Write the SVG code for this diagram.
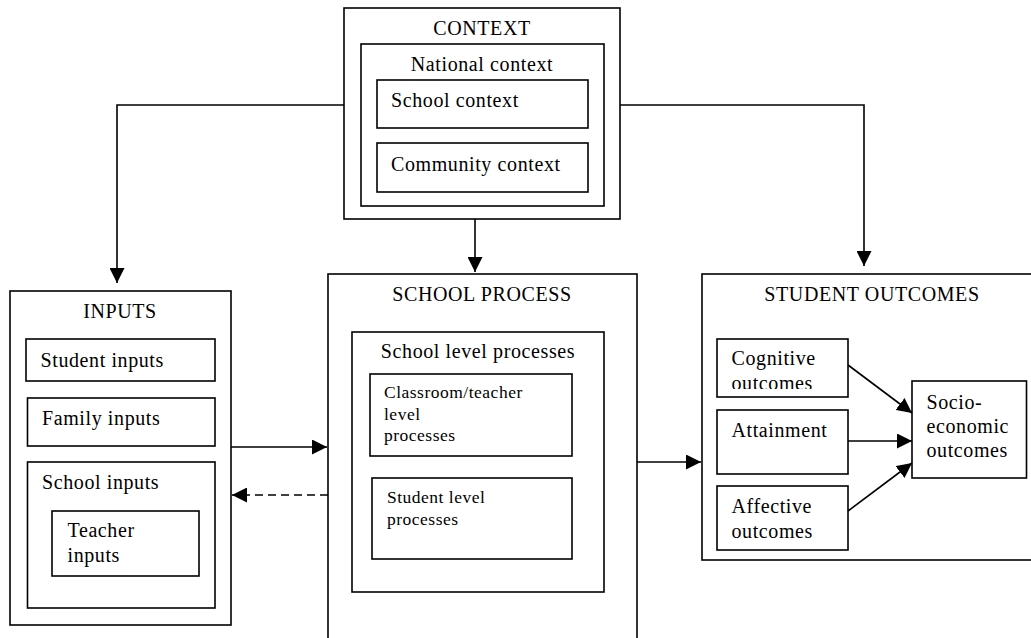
<svg xmlns="http://www.w3.org/2000/svg" width="1031" height="638" viewBox="0 0 1031 638">
<defs>
<marker id="ah" markerUnits="userSpaceOnUse" markerWidth="15" markerHeight="15" refX="14" refY="7" orient="auto" viewBox="0 0 14 14"><path d="M0,0 L14,7 L0,14 z" fill="#000"/></marker>
<clipPath id="cogclip"><rect x="717" y="339" width="131" height="50"/></clipPath>
</defs>
<style>
rect{fill:#fff;stroke:#000;stroke-width:1.6}
text{font-family:"Liberation Serif","Times New Roman",serif;font-size:20px;letter-spacing:0.6px;fill:#000}
.sm{font-size:17.5px;letter-spacing:0.5px}
.c{text-anchor:middle}
.conn path{fill:none;stroke:#000;stroke-width:1.6}
.dash{stroke-dasharray:8 5}
</style>
<rect x="0" y="0" width="1031" height="638" style="stroke:none;fill:#fff"/>
<g id="context">
<rect x="344" y="8" width="276" height="211"/>
<text class="c" x="482" y="35">CONTEXT</text>
<g id="national-context">
<rect x="361" y="44" width="243" height="162"/>
<text class="c" x="482" y="71">National context</text>
</g>
<g id="school-context">
<rect x="377" y="80" width="211" height="48"/>
<text x="391" y="107">School context</text>
</g>
<g id="community-context">
<rect x="377" y="143" width="211" height="49"/>
<text x="391" y="171">Community context</text>
</g>
</g>
<g id="inputs">
<rect x="10" y="291" width="221" height="334"/>
<text class="c" x="120" y="318">INPUTS</text>
<g id="student-inputs">
<rect x="26" y="339" width="189" height="42"/>
<text x="40.5" y="367">Student inputs</text>
</g>
<g id="family-inputs">
<rect x="27.5" y="398" width="187.5" height="48"/>
<text x="42" y="425">Family inputs</text>
</g>
<g id="school-inputs">
<rect x="27.5" y="462" width="187.5" height="146"/>
<text x="42" y="489">School inputs</text>
<g id="teacher-inputs">
<rect x="52" y="511" width="147" height="65"/>
<text x="67.5" y="537">Teacher</text>
<text x="67.5" y="562">inputs</text>
</g>
</g>
</g>
<g id="school-process">
<rect x="328" y="274" width="309" height="380"/>
<text class="c" x="482" y="301">SCHOOL PROCESS</text>
<g id="school-level">
<rect x="352" y="332" width="252" height="260"/>
<text class="c" x="478" y="358">School level processes</text>
<g id="classroom-level">
<rect x="370" y="374" width="202" height="82"/>
<text class="sm" x="384" y="398">Classroom/teacher</text>
<text class="sm" x="384" y="419.5">level</text>
<text class="sm" x="384" y="441">processes</text>
</g>
<g id="student-level">
<rect x="372" y="478" width="200" height="81"/>
<text class="sm" x="387" y="503">Student level</text>
<text class="sm" x="387" y="524.5">processes</text>
</g>
</g>
</g>
<g id="student-outcomes">
<rect x="702" y="274" width="340" height="286"/>
<text class="c" x="872" y="301">STUDENT OUTCOMES</text>
<g id="cognitive">
<rect x="717" y="339" width="131" height="58"/>
<text x="731.5" y="365">Cognitive</text>
<text x="731.5" y="390" clip-path="url(#cogclip)">outcomes</text>
</g>
<g id="attainment">
<rect x="717" y="410" width="131" height="64"/>
<text x="731.5" y="437">Attainment</text>
</g>
<g id="affective">
<rect x="717" y="486" width="131" height="64"/>
<text x="731.5" y="513">Affective</text>
<text x="731.5" y="537.5">outcomes</text>
</g>
<g id="socio-economic">
<rect x="912" y="381" width="114.5" height="97"/>
<text x="926.5" y="408.5">Socio-</text>
<text x="926.5" y="433">economic</text>
<text x="926.5" y="457">outcomes</text>
</g>
</g>
<g class="conn" id="connectors">
<path d="M344,105 H117 V283" marker-end="url(#ah)"/>
<path d="M620,105 H864 V266" marker-end="url(#ah)"/>
<path d="M475,219 V272" marker-end="url(#ah)"/>
<path d="M231,447 H327" marker-end="url(#ah)"/>
<path class="dash" d="M328,495 H232" marker-end="url(#ah)"/>
<path d="M637,462 H701" marker-end="url(#ah)"/>
<path d="M848,365 L912,413" marker-end="url(#ah)"/>
<path d="M848,441 H912" marker-end="url(#ah)"/>
<path d="M848,511 L912,463" marker-end="url(#ah)"/>
</g>
</svg>
